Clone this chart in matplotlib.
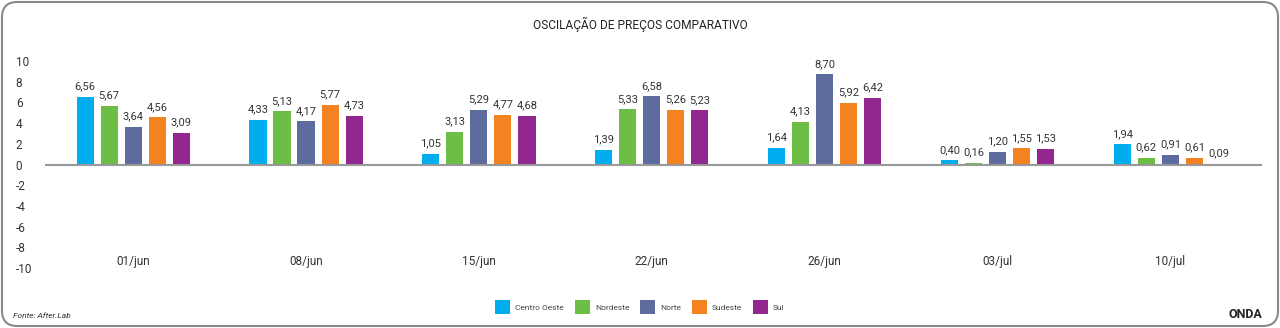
import matplotlib
matplotlib.use("Agg")
import matplotlib.pyplot as plt
from matplotlib.patches import FancyBboxPatch, Patch
import numpy as np

plt.rcParams['font.family'] = ['Roboto', 'DejaVu Sans']

categories = ["01/jun", "08/jun", "15/jun", "22/jun", "26/jun", "03/jul", "10/jul"]
series_names = ["Centro Oeste", "Nordeste", "Norte", "Sudeste", "Sul"]
centro_oeste = [6.56, 4.33, 1.05, 1.39, 1.64, 0.40, 1.94]
nordeste = [5.67, 5.13, 3.13, 5.33, 4.13, 0.16, 0.62]
norte = [3.64, 4.17, 5.29, 6.58, 8.70, 1.20, 0.91]
sudeste = [4.56, 5.77, 4.77, 5.26, 5.92, 1.55, 0.61]
sul = [3.09, 4.73, 4.68, 5.23, 6.42, 1.53, 0.09]
y_ticks = [10, 8, 6, 4, 2, 0, -2, -4, -6, -8, -10]

colors = ["#00AEEF", "#6DBE45", "#5E6B9E", "#F58220", "#92278F"]
series = [centro_oeste, nordeste, norte, sudeste, sul]

W, H = 1280, 328
fig = plt.figure(figsize=(W / 100, H / 100), dpi=100)
fig.patch.set_facecolor("white")

# rounded border
border = FancyBboxPatch((2 / W, 2 / H), (W - 4) / W, (H - 4) / H,
                        boxstyle="round,pad=0,rounding_size=0.012",
                        transform=fig.transFigure, fill=False,
                        edgecolor="#8a8a8a", linewidth=1.5, mutation_aspect=W / H)
fig.patches.append(border)

ax = fig.add_axes([45 / W, 1 - 268 / H, (1262 - 45) / W, (268 - 61) / H])
ax.set_xlim(-0.51, 6.53)
ax.set_ylim(-10, 10)

x = np.arange(len(categories))
step = 0.139
width = 0.099
for i, (name, vals, c) in enumerate(zip(series_names, series, colors)):
    pos = x + (i - 2) * step
    bars = ax.bar(pos, vals, width=width, color=c, label=name,
                  linewidth=0, zorder=2)
    for b, v in zip(bars, vals):
        ax.annotate(f"{v:.2f}".replace(".", ","), (b.get_x() + b.get_width() / 2, v),
                    xytext=(0, 4), textcoords="offset points", ha="center", va="bottom",
                    fontsize=8, color="#333333")

ax.axhline(0, color="#999999", linewidth=1.5, zorder=3)

for s in ax.spines.values():
    s.set_visible(False)
ax.set_xticks([])
ax.set_yticks(y_ticks)
ax.set_yticklabels([str(t) for t in y_ticks])
ax.tick_params(axis="y", length=0, pad=21, labelsize=8.5, labelcolor="#333333")
for lbl in ax.get_yticklabels():
    lbl.set_horizontalalignment("left")

for xi, cat in zip(x, categories):
    ax.text(xi, -9.4, cat, ha="center", va="center", fontsize=8.5, color="#333333")

fig.text(0.5, 1 - 24 / H, "OSCILAÇÃO DE PREÇOS COMPARATIVO", ha="center", va="center",
         fontsize=8.6, color="#222222")

handles = [Patch(facecolor=c, edgecolor="none", label=n) for n, c in zip(series_names, colors)]
fig.legend(handles=handles, loc="center", bbox_to_anchor=(0.5, 1 - 307 / H), ncol=5,
           frameon=False, fontsize=6, handlelength=1.8, handleheight=2.3,
           handletextpad=0.6, columnspacing=1.3, labelcolor="#444444")

fig.text(13 / W, 1 - 316 / H, "Fonte: After.Lab", ha="left", va="center",
         fontsize=6, style="italic", color="#333333")
fig.text(1262 / W, 1 - 315 / H, "ONDA", ha="right", va="center",
         fontsize=9, fontweight="bold", color="#222222")

fig.savefig("out.png", dpi=100, facecolor="white")
